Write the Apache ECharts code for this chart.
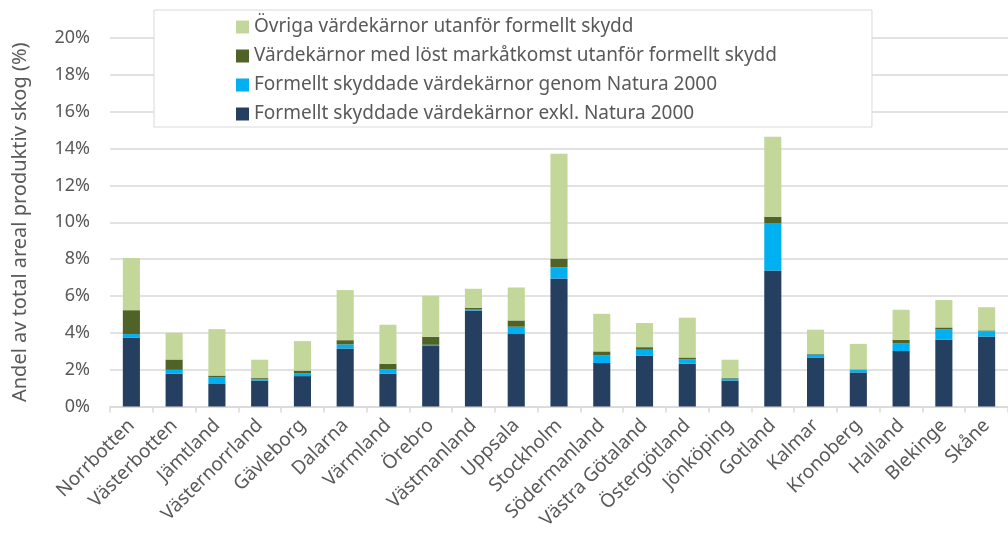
<!DOCTYPE html>
<html>
<head>
<meta charset="utf-8">
<script src="https://cdn.jsdelivr.net/npm/echarts@6/dist/echarts.min.js"></script>
<style>
  html, body { margin: 0; padding: 0; background: #fff; }
  #chart { width: 1008px; height: 538px; }
</style>
</head>
<body>
<div id="chart"></div>
<script>
// regions
const categories = ['Norrbotten', 'Västerbotten', 'Jämtland', 'Västernorrland', 'Gävleborg', 'Dalarna',
  'Värmland', 'Örebro', 'Västmanland', 'Uppsala', 'Stockholm', 'Södermanland', 'Västra Götaland',
  'Östergötland', 'Jönköping', 'Gotland', 'Kalmar', 'Kronoberg', 'Halland', 'Blekinge', 'Skåne']

// percent of productive forest area, stacked bottom -> top
const exklNatura = [3.75, 1.79, 1.22, 1.41, 1.65, 3.15, 1.79, 3.28, 5.21, 3.93, 6.95, 2.36, 2.77, 2.33, 1.41, 7.38, 2.66, 1.85, 3.01, 3.64, 3.80]
const natura = [0.18, 0.20, 0.35, 0.06, 0.14, 0.22, 0.22, 0.07, 0.08, 0.40, 0.60, 0.41, 0.31, 0.22, 0.11, 2.58, 0.16, 0.13, 0.43, 0.56, 0.29]
const lostMark = [1.30, 0.56, 0.11, 0.07, 0.16, 0.23, 0.31, 0.43, 0.07, 0.34, 0.48, 0.22, 0.14, 0.11, 0.03, 0.34, 0.03, 0.03, 0.18, 0.09, 0.04]
const ovriga = [2.83, 1.45, 2.52, 1.00, 1.60, 2.72, 2.12, 2.23, 1.03, 1.79, 5.69, 2.04, 1.31, 2.16, 0.99, 4.34, 1.32, 1.39, 1.63, 1.49, 1.26]

const names = [
  'Formellt skyddade värdekärnor exkl. Natura 2000',
  'Formellt skyddade värdekärnor genom Natura 2000',
  'Värdekärnor med löst markåtkomst utanför formellt skydd',
  'Övriga värdekärnor utanför formellt skydd'
]
const colors = ['#243f60', '#00b0f0', '#4f6228', '#c4d79b']
const values = [exklNatura, natura, lostMark, ovriga]

const font = 'Noto Sans'
const textColor = '#595959'

let myChart = echarts.init(document.getElementById('chart'))

let option = {
  animation: false,
  grid: {
    left: 110,
    top: 38,
    width: 906,
    bottom: 131.5,
    containLabel: false
  },
  legend: {
    orient: 'vertical',
    left: 154,
    top: 10,
    data: names.slice().reverse(),
    backgroundColor: '#fff',
    borderColor: '#d9d9d9',
    borderWidth: 1,
    padding: [7, 95, 3, 82],
    itemGap: 9,
    itemWidth: 13,
    itemHeight: 13,
    icon: 'rect',
    textStyle: {
      fontFamily: font,
      fontSize: 19,
      color: textColor,
      lineHeight: 20
    }
  },
  xAxis: {
    type: 'category',
    data: categories,
    axisLine: { lineStyle: { color: '#d9d9d9', width: 1.5 } },
    axisTick: { show: true, length: 6, lineStyle: { color: '#d9d9d9', width: 1.5 } },
    axisLabel: {
      rotate: 45,
      interval: 0,
      margin: 16,
      fontFamily: font,
      fontSize: 19,
      color: textColor
    }
  },
  yAxis: {
    type: 'value',
    min: 0,
    max: 20,
    interval: 2,
    name: 'Andel av total areal produktiv skog (%)',
    nameLocation: 'middle',
    nameGap: 80,
    nameTextStyle: { fontFamily: font, fontSize: 20, color: textColor },
    axisLine: { show: false },
    axisTick: { show: false },
    axisLabel: {
      formatter: '{value}%',
      margin: 20,
      fontFamily: font,
      fontSize: 18,
      color: textColor
    },
    splitLine: { lineStyle: { color: '#d9d9d9', width: 1.5 } }
  },
  series: names.map((n, i) => ({
    name: n,
    type: 'bar',
    stack: 'total',
    barWidth: '40%',
    data: values[i],
    itemStyle: { color: colors[i] }
  }))
}

myChart.setOption(option)
</script>
</body>
</html>
